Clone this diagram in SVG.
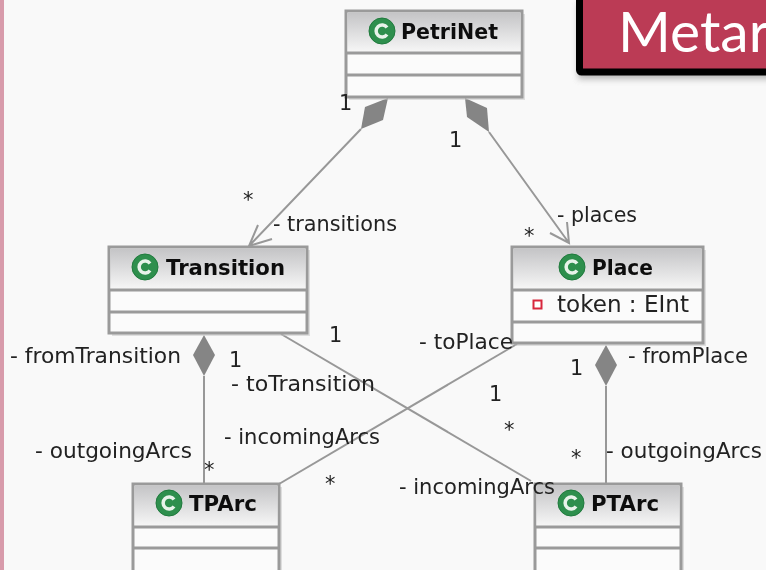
<svg xmlns="http://www.w3.org/2000/svg" width="766" height="570" viewBox="0 0 766 570">
<style>
text{font-family:"DejaVu Sans","Liberation Sans",sans-serif;fill:#222}
.l{font-size:20.800px}
.m{font-size:22.500px}
.n{font-size:21px;font-weight:bold;fill:#111}
.box{fill:#fbfbfb;stroke:#9a9a9a;stroke-width:3}
.hd{fill:url(#hg)}
.sep{stroke:#9a9a9a;stroke-width:3;fill:none}
.sh{fill:#c4c4c4;opacity:.5}
.con{stroke:#989898;stroke-width:2;fill:none}
.d{fill:#858585}
.ic{fill:#2f8f4e;stroke:#1f7a3c;stroke-width:1}
.ic2{fill:none;stroke:#e8f3ea;stroke-width:3.500}
</style>
<defs>
<linearGradient id="hg" x1="0" y1="0" x2="0" y2="1"><stop offset="0" stop-color="#c4c4c6"/><stop offset="1" stop-color="#f7f7f7"/></linearGradient>
<filter id="s" x="-10%" y="-10%" width="120%" height="120%"><feGaussianBlur stdDeviation="3"/></filter>
<filter id="b" x="0" y="0" width="100%" height="100%"><feGaussianBlur stdDeviation="0.500"/></filter>
<g id="cic"><circle r="13" class="ic"/><path d="M5 -3.500A6 6 0 1 0 5 3.500" class="ic2"/></g>
</defs>
<rect width="766" height="570" fill="#f9f9f9"/>
<rect width="4" height="570" fill="#d89bab"/>
<g filter="url(#b)">
<g id="banner">
<rect x="578" y="3" width="200" height="76" fill="#888" opacity=".6" filter="url(#s)"/>
<rect x="579.500" y="-6" width="200" height="78" fill="#bb3a55" stroke="#000" stroke-width="7" rx="2"/>
<text x="618" y="52" style="font-family:Lato,'Open Sans',sans-serif;font-size:57px;fill:#fff">Metar</text>
</g>
<g id="connectors">
<path class="con" d="M361 129L249 246M258 225L249 246L272 239"/>
<path class="con" d="M489 132L569 243M567 222L569 243L550 233"/>
<path class="con" d="M204 376V484"/>
<path class="con" d="M606 386V484"/>
<path class="con" d="M279 484L517 344"/>
<path class="con" d="M281 334L531 481"/>
<polygon class="d" points="388,98 365,107 361,129 383,120"/>
<polygon class="d" points="465,98 487,108 489,132 467,117"/>
<polygon class="d" points="204,335 215,355 204,376 193,355"/>
<polygon class="d" points="606,345 617,365 606,386 595,365"/>
</g>
<g id="PetriNet">
<rect x="349" y="14" width="176" height="86" class="sh"/>
<rect x="346" y="11" width="176" height="86" class="box"/>
<rect x="347.500" y="12.500" width="173" height="40" class="hd"/>
<path class="sep" d="M346 53H522M346 75H522"/>
<use href="#cic" x="382" y="31"/>
<text x="401" y="39" class="n" textLength="97" lengthAdjust="spacingAndGlyphs">PetriNet</text>
</g>
<g id="Transition">
<rect x="112" y="250" width="198" height="86" class="sh"/>
<rect x="109" y="247" width="198" height="86" class="box"/>
<rect x="110.500" y="248.500" width="195" height="41" class="hd"/>
<path class="sep" d="M109 290H307M109 312H307"/>
<use href="#cic" x="145" y="267"/>
<text x="166" y="275" class="n" textLength="119" lengthAdjust="spacingAndGlyphs">Transition</text>
</g>
<g id="Place">
<rect x="515" y="250" width="191" height="96" class="sh"/>
<rect x="512" y="247" width="191" height="96" class="box"/>
<rect x="513.500" y="248.500" width="188" height="41" class="hd"/>
<path class="sep" d="M512 290H703M512 322H703"/>
<use href="#cic" x="572" y="267"/>
<text x="592" y="275" class="n" textLength="61" lengthAdjust="spacingAndGlyphs">Place</text>
<rect x="533.500" y="300.500" width="8" height="8" fill="#fff" stroke="#d8283c" stroke-width="2"/>
<text x="557" y="312" class="m" textLength="132" lengthAdjust="spacingAndGlyphs">token : EInt</text>
</g>
<g id="TPArc">
<rect x="136" y="487" width="146" height="90" class="sh"/>
<rect x="133" y="484" width="146" height="90" class="box"/>
<rect x="134.500" y="485.500" width="143" height="41" class="hd"/>
<path class="sep" d="M133 527H279M133 548H279"/>
<use href="#cic" x="169" y="503"/>
<text x="189" y="511" class="n" textLength="68" lengthAdjust="spacingAndGlyphs">TPArc</text>
</g>
<g id="PTArc">
<rect x="538" y="487" width="146" height="90" class="sh"/>
<rect x="535" y="484" width="146" height="90" class="box"/>
<rect x="536.500" y="485.500" width="143" height="41" class="hd"/>
<path class="sep" d="M535 527H681M535 548H681"/>
<use href="#cic" x="571" y="503"/>
<text x="591" y="511" class="n" textLength="68" lengthAdjust="spacingAndGlyphs">PTArc</text>
</g>
<g id="labels">
<text x="339" y="110" class="l">1</text>
<text x="449" y="147" class="l">1</text>
<text x="243" y="207" class="l">*</text>
<text x="273" y="231" class="l" textLength="124" lengthAdjust="spacingAndGlyphs">- transitions</text>
<text x="524" y="243" class="l">*</text>
<text x="557" y="222" class="l" textLength="80" lengthAdjust="spacingAndGlyphs">- places</text>
<text x="329" y="342" class="l">1</text>
<text x="229" y="367" class="l">1</text>
<text x="10" y="363" class="l" textLength="171" lengthAdjust="spacingAndGlyphs">- fromTransition</text>
<text x="231" y="391" class="l" textLength="144" lengthAdjust="spacingAndGlyphs">- toTransition</text>
<text x="419" y="349" class="l" textLength="94" lengthAdjust="spacingAndGlyphs">- toPlace</text>
<text x="628" y="363" class="l" textLength="120" lengthAdjust="spacingAndGlyphs">- fromPlace</text>
<text x="570" y="375" class="l">1</text>
<text x="489" y="401" class="l">1</text>
<text x="504" y="437" class="l">*</text>
<text x="224" y="444" class="l" textLength="156" lengthAdjust="spacingAndGlyphs">- incomingArcs</text>
<text x="35" y="458" class="l" textLength="157" lengthAdjust="spacingAndGlyphs">- outgoingArcs</text>
<text x="204" y="477" class="l">*</text>
<text x="571" y="465" class="l">*</text>
<text x="606" y="458" class="l" textLength="156" lengthAdjust="spacingAndGlyphs">- outgoingArcs</text>
<text x="325" y="491" class="l">*</text>
<text x="399" y="494" class="l" textLength="156" lengthAdjust="spacingAndGlyphs">- incomingArcs</text>
</g>
</g>
</svg>
